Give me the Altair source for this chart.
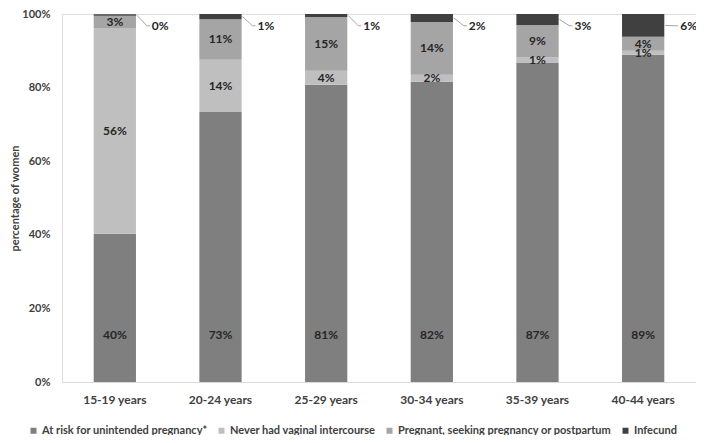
import altair as alt
import pandas as pd

ages = ["15-19 years", "20-24 years", "25-29 years", "30-34 years", "35-39 years", "40-44 years"]
series = ["At risk for unintended pregnancy*", "Never had vaginal intercourse",
          "Pregnant, seeking pregnancy or postpartum", "Infecund"]
at_risk = [40.3, 73.4, 80.8, 81.6, 86.8, 88.9]
never = [55.9, 14.2, 3.8, 1.9, 1.4, 1.1]
pregnant = [3.3, 11.0, 14.6, 14.3, 8.8, 3.8]
infecund = [0.4, 1.4, 0.8, 2.2, 3.0, 6.2]
colors = ["#7f7f7f", "#bfbfbf", "#a5a5a5", "#404040"]

FONT = "Lato"
TXT = "#404040"

rows = []
lead = []
for i, age in enumerate(ages):
    vals = [at_risk[i], never[i], pregnant[i], infecund[i]]
    cum = 0.0
    for k, (s, v) in enumerate(zip(series, vals)):
        mid = cum + v / 2
        rows.append({"age": age, "series": s, "order": k, "value": v,
                     "y0": cum, "y1": cum + v, "mid": mid,
                     "label": f"{round(v)}%"})
        cum += v
    top_mid = cum - infecund[i] / 2
    lead.append({"age": age, "ya": top_mid, "yb": min(top_mid, 96.8),
                 "label": f"{round(infecund[i])}%"})

df = pd.DataFrame(rows)
ld = pd.DataFrame(lead)

xenc = alt.X("age:N", sort=ages, title=None,
             scale=alt.Scale(paddingInner=0.6, paddingOuter=0.3),
             axis=alt.Axis(labelAngle=0, ticks=False, domainColor="#d9d9d9",
                           labelFont=FONT, labelFontSize=12, labelFontWeight="bold",
                           labelColor=TXT, labelPadding=12))
yscale = alt.Scale(domain=[0, 100], nice=False)

bars = alt.Chart(df).mark_bar().encode(
    x=xenc,
    y=alt.Y("y0:Q", scale=yscale, title="percentage of women",
            axis=alt.Axis(values=[0, 20, 40, 60, 80, 100], labelExpr="datum.value + '%'",
                          grid=False, domain=False, ticks=False, labelPadding=12,
                          labelFont=FONT, labelFontSize=11, labelFontWeight="bold",
                          labelColor=TXT, titleFont=FONT, titleFontSize=11,
                          titleFontWeight="bold", titleColor=TXT,
                          titleX=-47, titleY=184, titleAlign="center",
                          titleBaseline="middle", titleAngle=270)),
    y2="y1:Q",
    color=alt.Color("series:N", scale=alt.Scale(domain=series, range=colors),
                    legend=alt.Legend(title=None, orient="none", direction="horizontal",
                                      legendX=-34, legendY=411,
                                      symbolType="square", symbolSize=36, symbolStrokeWidth=0,
                                      labelFont=FONT, labelFontSize=11, labelFontWeight="bold",
                                      labelColor=TXT, labelLimit=0, labelOffset=3,
                                      columnPadding=8)),
    order=alt.Order("order:Q"),
)

inside = df[df["order"] < 3].copy()
inside["ty"] = inside.apply(lambda r: 12.7 if r["order"] == 0 else r["mid"], axis=1)
texts = alt.Chart(inside).mark_text(font=FONT, fontSize=12, fontWeight="bold",
                                    color="#262626", baseline="middle").encode(
    x=alt.X("age:N", sort=ages), y=alt.Y("ty:Q", scale=yscale), text="label:N")

diag = alt.Chart(ld).mark_rule(color="#a6a6a6", strokeWidth=1, xOffset=22, x2Offset=32).encode(
    x=alt.X("age:N", sort=ages), x2="age:N",
    y=alt.Y("ya:Q", scale=yscale), y2="yb:Q")
hor = alt.Chart(ld).mark_rule(color="#a6a6a6", strokeWidth=1, xOffset=32, x2Offset=35).encode(
    x=alt.X("age:N", sort=ages), x2="age:N",
    y=alt.Y("yb:Q", scale=yscale), y2="yb:Q")
outs = alt.Chart(ld).mark_text(font=FONT, fontSize=12, fontWeight="bold", color="#262626",
                               align="left", baseline="middle", dx=37).encode(
    x=alt.X("age:N", sort=ages), y=alt.Y("yb:Q", scale=yscale), text="label:N")

chart = alt.layer(bars, texts, diag, hor, outs).properties(
    width=634, height=368,
    autosize=alt.AutoSizeParams(type="none"),
    padding={"left": 54, "top": 6, "right": 0, "bottom": 53},
).configure_view(stroke=None).configure(background="white")

chart.save("out.html", embed_options={"renderer": "svg", "actions": False})
